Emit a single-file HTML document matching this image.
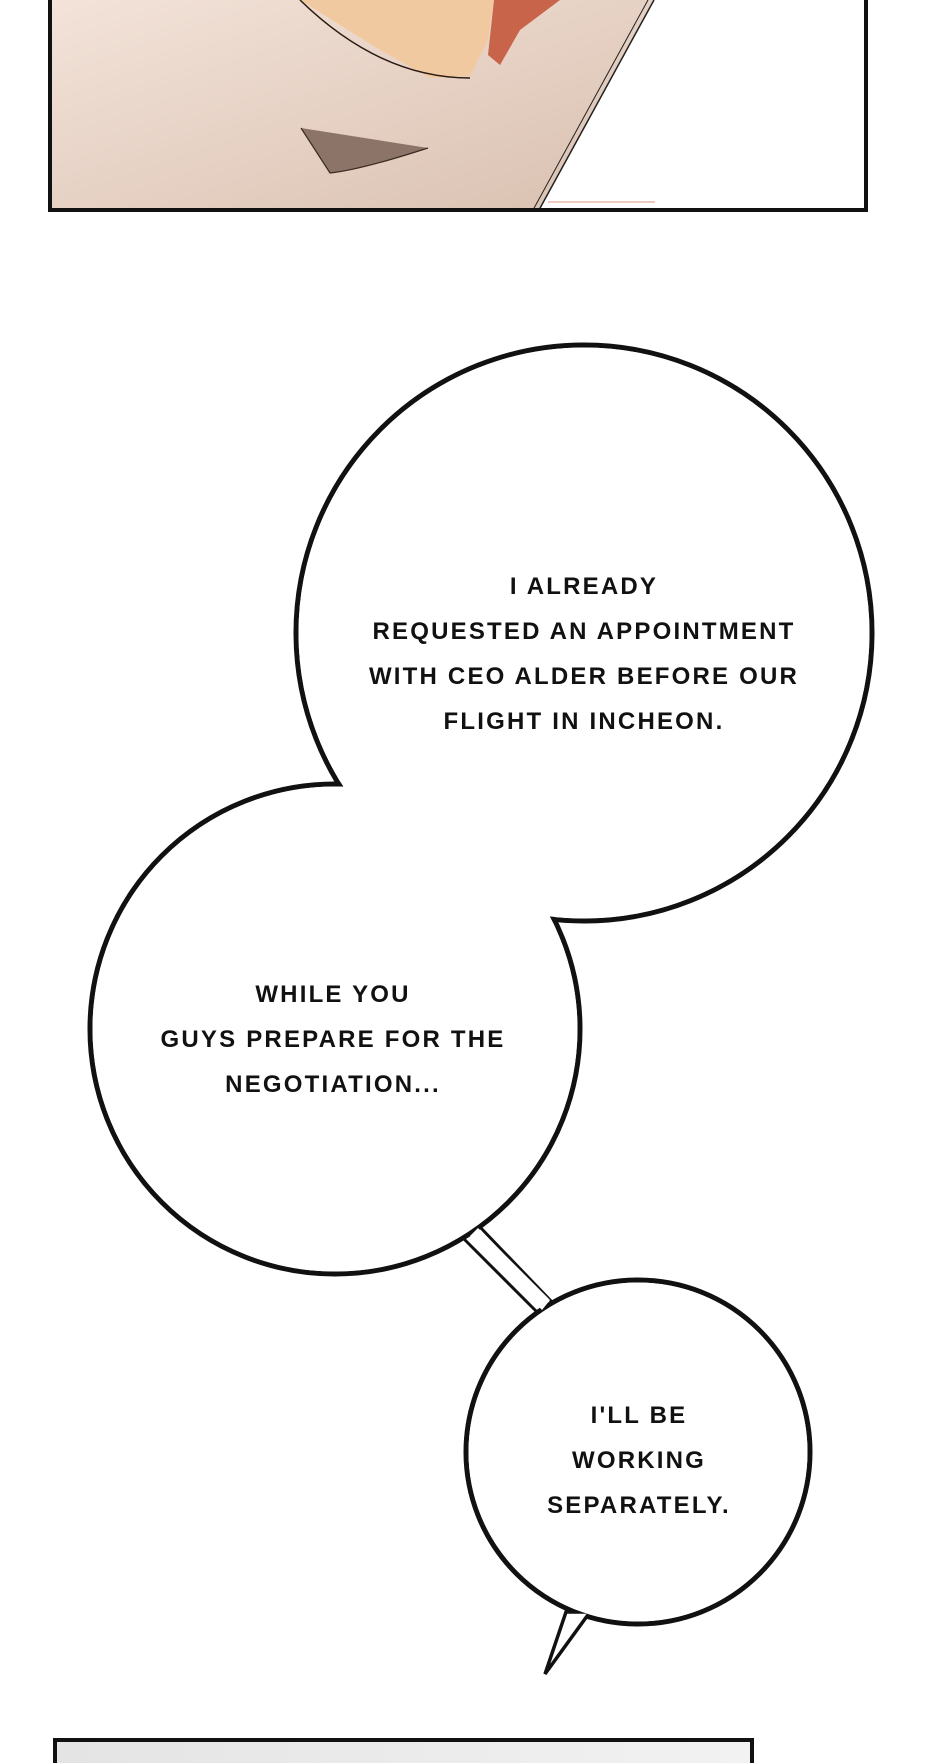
<!DOCTYPE html>
<html><head><meta charset="utf-8"><style>
html,body{margin:0;padding:0;background:#fff;}
svg{display:block;}
text{font-family:"Liberation Sans",sans-serif;font-size:24px;font-weight:bold;letter-spacing:2.2px;fill:#111;text-anchor:middle;}
</style></head><body>
<svg width="940" height="1763" viewBox="0 0 940 1763" xmlns="http://www.w3.org/2000/svg">
<defs>
<linearGradient id="sk" x1="0" y1="0" x2="1" y2="1">
<stop offset="0" stop-color="#f3e3d9"/><stop offset="1" stop-color="#d9c0b0"/>
</linearGradient>
<linearGradient id="gr" x1="0" y1="0" x2="1" y2="0">
<stop offset="0" stop-color="#e4e4e4"/><stop offset="1" stop-color="#f2f2f2"/>
</linearGradient>
</defs>
<rect x="50" y="-5" width="816" height="215" fill="#fff"/>
<polygon points="50,0 654,0 539,210 50,210" fill="url(#sk)"/>
<polygon points="300,0 494,0 488,40 470,76 430,78 380,50" fill="#f1c9a0"/>
<path d="M300,0 Q380,78 470,78" fill="none" stroke="#2a1a12" stroke-width="1.5"/>
<polygon points="494,0 560,0 520,30 500,65 488,55" fill="#c8644a"/>
<path d="M301,128 L330,173 Q360,170 428,148" fill="#8d7468" stroke="#3a2a22" stroke-width="1.2"/>
<line x1="654" y1="0" x2="539" y2="210" stroke="#222" stroke-width="1.5"/>
<line x1="648" y1="0" x2="533" y2="210" stroke="#222" stroke-width="1"/>
<line x1="548" y1="202" x2="655" y2="202" stroke="#e8b8a8" stroke-width="1.5"/>
<rect x="50" y="-5" width="816" height="215" fill="none" stroke="#111" stroke-width="4"/>
<line x1="462" y1="1237" x2="538" y2="1313" stroke="#111" stroke-width="3"/>
<line x1="479" y1="1226" x2="552" y2="1302" stroke="#111" stroke-width="3"/>
<g stroke="#111" stroke-width="5" fill="#fff">
<circle cx="584" cy="633" r="288"/>
<circle cx="335" cy="1029" r="245"/>
<ellipse cx="638" cy="1452" rx="172" ry="172"/>
<polygon points="566,1612 545,1674 590,1612" stroke-width="3.5" stroke-linejoin="miter"/>
</g>
<g fill="#fff">
<circle cx="584" cy="633" r="285.5"/>
<circle cx="335" cy="1029" r="242.5"/>
<ellipse cx="638" cy="1452" rx="169.5" ry="169.5"/>
<polygon points="470,1236 542,1310 550,1300 478,1228"/>
</g>
<text x="584" y="594">I ALREADY</text>
<text x="584" y="639">REQUESTED AN APPOINTMENT</text>
<text x="584" y="684">WITH CEO ALDER BEFORE OUR</text>
<text x="584" y="729">FLIGHT IN INCHEON.</text>
<text x="333" y="1002">WHILE YOU</text>
<text x="333" y="1047">GUYS PREPARE FOR THE</text>
<text x="333" y="1092">NEGOTIATION...</text>
<text x="639" y="1423">I'LL BE</text>
<text x="639" y="1468">WORKING</text>
<text x="639" y="1513">SEPARATELY.</text>
<rect x="55" y="1740" width="697" height="40" fill="url(#gr)" stroke="#111" stroke-width="4"/>
</svg>
</body></html>
